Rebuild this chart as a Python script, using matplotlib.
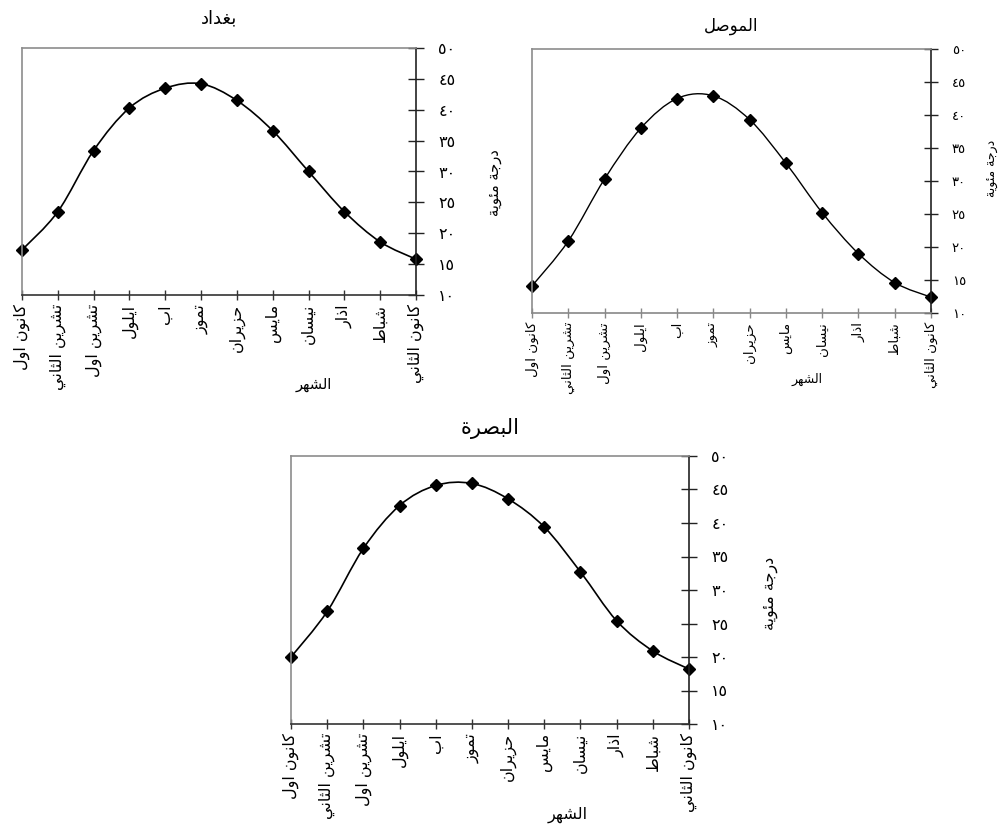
import numpy as np
import matplotlib
matplotlib.use("Agg")
import matplotlib.pyplot as plt
from matplotlib.path import Path
from matplotlib.patches import PathPatch

plt.rcParams["font.family"] = ["DejaVu Sans"]

# Data (monthly max temperature, months ordered right-to-left)
months = ["كانون اول", "تشرين الثاني", "تشرين اول", "ايلول", "اب", "تموز",
          "حزيران", "مايس", "نيسان", "اذار", "شباط", "كانون الثاني"]
baghdad = [17.3, 23.5, 33.4, 40.3, 43.5, 44.2, 41.5, 36.6, 30.0, 23.5, 18.6, 15.8]
mosul = [14.1, 20.9, 30.3, 38.0, 42.5, 42.9, 39.3, 32.7, 25.2, 19.0, 14.6, 12.4]
basra = [20.0, 26.8, 36.2, 42.6, 45.6, 45.9, 43.6, 39.4, 32.7, 25.4, 20.9, 18.2]
yticks = [10, 15, 20, 25, 30, 35, 40, 45, 50]
ytick_labels = ["١٠", "١٥", "٢٠", "٢٥", "٣٠", "٣٥", "٤٠", "٤٥", "٥٠"]
titles = ["بغداد", "الموصل", "البصرة"]
xlabel = "الشهر"
ylabel = "درجة مئوية"

# --- minimal Arabic shaping (matplotlib has no text shaping) ---
_four = {"ب": 0xFE8F, "ت": 0xFE95, "ث": 0xFE99, "ج": 0xFE9D, "ح": 0xFEA1,
         "خ": 0xFEA5, "س": 0xFEB1, "ش": 0xFEB5, "ص": 0xFEB9, "ض": 0xFEBD,
         "ط": 0xFEC1, "ظ": 0xFEC5, "ع": 0xFEC9, "غ": 0xFECD, "ف": 0xFED1,
         "ق": 0xFED5, "ك": 0xFED9, "ل": 0xFEDD, "م": 0xFEE1, "ن": 0xFEE5,
         "ه": 0xFEE9, "ي": 0xFEF1, "ئ": 0xFE89}
_two = {"ا": 0xFE8D, "د": 0xFEA9, "ذ": 0xFEAB, "ر": 0xFEAD, "ز": 0xFEAF,
        "و": 0xFEED, "ة": 0xFE93, "ؤ": 0xFE85, "ى": 0xFEEF}
FORMS = {}
for ch, b in _four.items():
    FORMS[ch] = tuple(chr(b + k) for k in range(4))
for ch, b in _two.items():
    FORMS[ch] = (chr(b), chr(b + 1))
FORMS["ء"] = (chr(0xFE80),)


def shape(s):
    out = []
    for i, ch in enumerate(s):
        if ch not in FORMS:
            out.append(ch)
            continue
        f = FORMS[ch]
        prev = s[i - 1] if i > 0 else ""
        nxt = s[i + 1] if i + 1 < len(s) else ""
        jp = prev in FORMS and len(FORMS[prev]) == 4 and len(f) > 1
        jn = nxt in FORMS and len(f) == 4
        if jp and jn:
            out.append(f[3])
        elif jp:
            out.append(f[1])
        elif jn:
            out.append(f[2])
        else:
            out.append(f[0])
    return "".join(reversed(out))


def smooth_path(x, y):
    # bezier smoothing through the points (like spreadsheet "smoothed line")
    verts = [(x[0], y[0])]
    codes = [Path.MOVETO]
    n = len(x)
    for i in range(n - 1):
        xa, ya = (x[i - 1], y[i - 1]) if i > 0 else (x[i], y[i])
        xb, yb = (x[i + 2], y[i + 2]) if i + 2 < n else (x[i + 1], y[i + 1])
        c1 = (x[i] + (x[i + 1] - xa) / 6, y[i] + (y[i + 1] - ya) / 6)
        c2 = (x[i + 1] - (xb - x[i]) / 6, y[i + 1] - (yb - y[i]) / 6)
        verts += [c1, c2, (x[i + 1], y[i + 1])]
        codes += [Path.CURVE4] * 3
    return Path(verts, codes)


W, H = 1008, 832
fig = plt.figure(figsize=(W / 100, H / 100), dpi=100)

charts = [
    # values, title, box (left, right, top, bottom) px, styling
    dict(vals=baghdad, title=titles[0], box=(22, 416, 48, 295), tfs=13, tpad=18,
         mfs=11.5, yfs=11.5, lfs=10.5, xl=(0.74, -0.33), yl=(1.198, 0.453),
         bottom_c="#333333", ms=6.5, lw=1.2, ylen=12),
    dict(vals=mosul, title=titles[1], box=(532, 931, 49, 313), tfs=12, tpad=13,
         mfs=9.6, yfs=9.5, lfs=9, xl=(0.69, -0.225), yl=(1.153, 0.549),
         bottom_c="#888888", ms=6, lw=1.0, ylen=10),
    dict(vals=basra, title=titles[2], box=(291, 689, 456, 724), tfs=15, tpad=16,
         mfs=11.5, yfs=11.5, lfs=11.5, xl=(0.696, -0.31), yl=(1.206, 0.489),
         bottom_c="#333333", ms=6.5, lw=1.2, ylen=12),
]

x = np.arange(len(months))
for c in charts:
    l, r, t, b = c["box"]
    ax = fig.add_axes([l / W, (H - b) / H, (r - l) / W, (b - t) / H])
    ax.add_patch(PathPatch(smooth_path(x, c["vals"]), fill=False,
                           edgecolor="black", lw=c["lw"]))
    ax.plot(x, c["vals"], "D", color="black", markersize=c["ms"], clip_on=False)
    ax.set_xlim(x[0], x[-1])
    ax.set_ylim(yticks[0], yticks[-1])

    for side in ("left", "top"):
        ax.spines[side].set_color("#8c8c8c")
    ax.spines["right"].set_color("#222222")
    ax.spines["bottom"].set_color(c["bottom_c"])
    for sp in ax.spines.values():
        sp.set_linewidth(1.2)

    ax.yaxis.tick_right()
    ax.set_yticks(yticks)
    ax.set_yticklabels(ytick_labels, fontsize=c["yfs"])
    ax.tick_params(axis="y", direction="inout", length=c["ylen"], width=1.0,
                   pad=10, color="#222222")
    ax.set_xticks(x)
    ax.set_xticklabels([shape(m) for m in months], rotation=90, fontsize=c["mfs"])
    ax.tick_params(axis="x", direction="inout", length=7, width=1.0, pad=3,
                   color=c["bottom_c"])

    ax.set_title(shape(c["title"]), fontsize=c["tfs"], pad=c["tpad"])
    ax.set_xlabel(shape(xlabel), fontsize=c["lfs"])
    ax.xaxis.set_label_coords(*c["xl"])
    ax.yaxis.set_label_position("right")
    ax.set_ylabel(shape(ylabel), fontsize=c["lfs"], rotation=90,
                  va="center", ha="center")
    ax.yaxis.set_label_coords(*c["yl"])

fig.savefig("out.png", dpi=100)
